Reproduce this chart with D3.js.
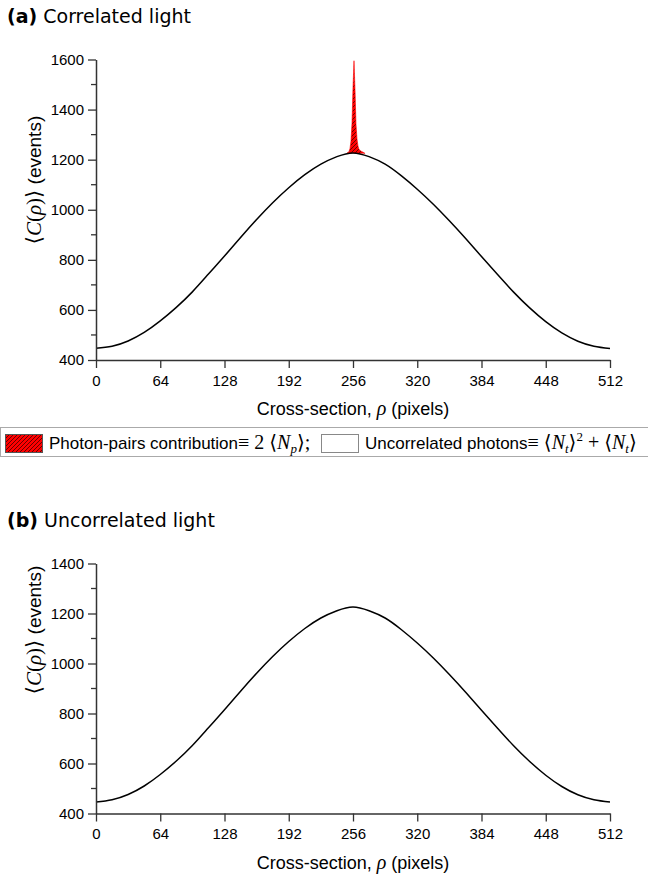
<!DOCTYPE html>
<html>
<head>
<meta charset="utf-8">
<script src="https://cdnjs.cloudflare.com/ajax/libs/d3/7.8.5/d3.min.js"></script>
<style>
  body { margin: 0; background: #fff; }
  svg { display: block; }
</style>
</head>
<body>
<svg id="fig" width="648" height="878"></svg>
<script>
// #region data
// cross-section positions (pixels), sampled every 16 px
var rho = [0, 16, 32, 48, 64, 80, 96, 112, 128, 144, 160, 176, 192, 208, 224, 240, 256,
  272, 288, 304, 320, 336, 352, 368, 384, 400, 416, 432, 448, 464, 480, 496, 512];

// (a) uncorrelated part of the correlated-light profile (events)
var uncorrA = [447, 455, 476, 510, 556, 610, 672, 743, 815, 889, 961, 1028, 1088, 1140, 1182, 1212, 1227,
  1212, 1182, 1136, 1082, 1022, 956, 886, 813, 741, 671, 608, 553, 508, 475, 455, 446];

// (b) uncorrelated light profile (events)
var uncorrB = [446, 455, 476, 510, 556, 610, 672, 743, 815, 889, 961, 1028, 1088, 1140, 1182, 1211, 1226,
  1211, 1182, 1136, 1082, 1022, 956, 886, 813, 741, 671, 608, 553, 508, 475, 455, 446];

// photon-pairs peak in (a): position, bottom (uncorrelated level) and top (total)
var pairRho = [250, 252, 253, 254, 255, 256, 257, 258, 259, 260, 261, 262, 264, 266, 268];
var pairBase = [1226, 1226, 1227, 1227, 1227, 1227, 1227, 1227, 1227, 1227, 1227, 1226, 1226, 1226, 1225];
var pairTotal = [1226, 1232, 1245, 1275, 1345, 1490, 1595, 1480, 1340, 1282, 1254, 1241, 1234, 1230, 1225];

var xTicks = [0, 64, 128, 192, 256, 320, 384, 448, 512];
var yTicksA = [400, 600, 800, 1000, 1200, 1400, 1600];
var yMinorA = [500, 700, 900, 1100, 1300, 1500];
var yTicksB = [400, 600, 800, 1000, 1200, 1400];
var yMinorB = [500, 700, 900, 1100, 1300];
// #endregion

var svg = d3.select('#fig');
var TICK_FONT = '"Liberation Sans", Arial, sans-serif';
var MATH_FONT = '"Liberation Serif", "DejaVu Serif", serif';
var AXIS_COLOR = '#333';

// hatch pattern for photon-pairs
var pat = svg.append('defs').append('pattern')
  .attr('id', 'hatch')
  .attr('patternUnits', 'userSpaceOnUse')
  .attr('width', 4)
  .attr('height', 4);
pat.append('rect').attr('width', 4).attr('height', 4).attr('fill', '#ff0000');
pat.append('path')
  .attr('d', 'M-1,1 l2,-2 M0,4 l4,-4 M3,5 l2,-2')
  .attr('stroke', '#000')
  .attr('stroke-width', 0.6);

var xRange = d3.scaleLinear().domain([0, 512]).range([96, 610]);

// small helper for math-styled pieces
function mathSpan(el, str, opts) {
  opts = opts || {};
  var s = el.append('tspan')
    .style('font-family', MATH_FONT)
    .style('font-size', (opts.size || 20) + 'px')
    .text(str);
  if (opts.italic) s.style('font-style', 'italic');
  if (opts.dy) s.attr('dy', opts.dy);
  return s;
}

function drawPanel(cfg) {
  var yRange = d3.scaleLinear().domain(cfg.yDomain).range([cfg.bottom, cfg.top]);
  var g = svg.append('g');

  // title
  var title = g.append('text')
    .attr('x', 7)
    .attr('y', cfg.titleY)
    .style('font-family', '"DejaVu Sans", Verdana, sans-serif')
    .style('font-size', '19px');
  title.append('tspan').style('font-weight', 'bold').text(cfg.label);
  title.append('tspan').text(' ' + cfg.title);

  // red pairs contribution
  if (cfg.pairs) {
    var area = d3.area()
      .x(function (d, i) { return xRange(pairRho[i]); })
      .y0(function (d, i) { return yRange(pairBase[i]); })
      .y1(function (d) { return yRange(d); });
    g.append('path')
      .attr('d', area(pairTotal))
      .attr('fill', 'url(#hatch)')
      .attr('stroke', '#ff0000')
      .attr('stroke-width', 0.6);
  }

  // uncorrelated line
  var line = d3.line()
    .x(function (d, i) { return xRange(rho[i]); })
    .y(function (d) { return yRange(d); })
    .curve(d3.curveNatural);
  g.append('path')
    .attr('d', line(cfg.values))
    .attr('fill', 'none')
    .attr('stroke', '#000')
    .attr('stroke-width', 1.5);

  // x axis
  var xAxis = g.append('g')
    .attr('transform', 'translate(0,' + cfg.bottom + ')')
    .call(d3.axisBottom(xRange).tickValues(xTicks).tickFormat(d3.format('d'))
      .tickSize(8).tickPadding(7).tickSizeOuter(0));

  // y axis with minor ticks
  var yAxis = g.append('g')
    .attr('transform', 'translate(96,0)')
    .call(d3.axisLeft(yRange).tickValues(cfg.yTicks).tickFormat(d3.format('d'))
      .tickSize(8).tickPadding(4).tickSizeOuter(0));
  yAxis.selectAll('.minor')
    .data(cfg.yMinor)
    .enter().append('line')
    .attr('class', 'minor')
    .attr('x1', -5).attr('x2', 0)
    .attr('y1', function (d) { return yRange(d); })
    .attr('y2', function (d) { return yRange(d); })
    .attr('stroke', AXIS_COLOR)
    .attr('stroke-width', 1.3);

  [xAxis, yAxis].forEach(function (ax) {
    ax.select('.domain').attr('stroke', AXIS_COLOR).attr('stroke-width', 1.5);
    ax.selectAll('.tick line').attr('stroke', AXIS_COLOR).attr('stroke-width', 1.3);
    ax.selectAll('.tick text')
      .attr('fill', '#000')
      .style('font-family', TICK_FONT)
      .style('font-size', '15px');
  });

  // x axis title
  var xt = g.append('text')
    .attr('x', 353)
    .attr('y', cfg.bottom + 55)
    .attr('text-anchor', 'middle')
    .style('font-family', TICK_FONT)
    .style('font-size', '18px');
  xt.append('tspan').text('Cross-section, ');
  mathSpan(xt, '\u03C1', { italic: true, size: 20 });
  xt.append('tspan').text('  (pixels)');

  // y axis title
  var yt = g.append('text')
    .attr('transform', 'translate(41,' + cfg.yLabelY + ') rotate(-90)')
    .attr('text-anchor', 'middle')
    .style('font-family', TICK_FONT)
    .style('font-size', '19px');
  mathSpan(yt, '\u27E8', { size: 21 });
  mathSpan(yt, 'C', { italic: true, size: 21 });
  mathSpan(yt, '(', { size: 21 });
  mathSpan(yt, '\u03C1', { italic: true, size: 21 });
  mathSpan(yt, ')\u27E9', { size: 21 });
  yt.append('tspan').text(' (events)');
}

drawPanel({
  label: '(a)', title: 'Correlated light', titleY: 23,
  yDomain: [400, 1600], top: 59.5, bottom: 360,
  yTicks: yTicksA, yMinor: yMinorA, values: uncorrA, pairs: true, yLabelY: 180
});

drawPanel({
  label: '(b)', title: 'Uncorrelated light', titleY: 527,
  yDomain: [400, 1400], top: 563.5, bottom: 813.5,
  yTicks: yTicksB, yMinor: yMinorB, values: uncorrB, pairs: false, yLabelY: 630
});

// #region legend
var lg = svg.append('g');
lg.append('rect')
  .attr('x', 0.5).attr('y', 427.5)
  .attr('width', 700).attr('height', 29)
  .attr('fill', 'none')
  .attr('stroke', '#aaa');
lg.append('rect')
  .attr('x', 5.5).attr('y', 434.5)
  .attr('width', 37).attr('height', 18)
  .attr('fill', 'url(#hatch)')
  .attr('stroke', '#555');
lg.append('rect')
  .attr('x', 321.5).attr('y', 434.5)
  .attr('width', 37).attr('height', 18)
  .attr('fill', '#fff')
  .attr('stroke', '#888');

var t1 = lg.append('text')
  .attr('x', 49).attr('y', 449)
  .style('font-family', TICK_FONT)
  .style('font-size', '17px');
t1.append('tspan').text('Photon-pairs contribution');
mathSpan(t1, '\u2261 2 \u27E8');
mathSpan(t1, 'N', { italic: true });
mathSpan(t1, 'p', { italic: true, size: 13, dy: 4 });
mathSpan(t1, '\u27E9;', { dy: -4 });

var t2 = lg.append('text')
  .attr('x', 365).attr('y', 449)
  .style('font-family', TICK_FONT)
  .style('font-size', '17px');
t2.append('tspan').text('Uncorrelated photons');
mathSpan(t2, '\u2261 \u27E8');
mathSpan(t2, 'N', { italic: true });
mathSpan(t2, 't', { italic: true, size: 13, dy: 4 });
mathSpan(t2, '\u27E9', { dy: -4 });
mathSpan(t2, '2', { size: 13, dy: -8 });
mathSpan(t2, ' + \u27E8', { dy: 8 });
mathSpan(t2, 'N', { italic: true });
mathSpan(t2, 't', { italic: true, size: 13, dy: 4 });
mathSpan(t2, '\u27E9', { dy: -4 });
// #endregion
</script>
</body>
</html>
